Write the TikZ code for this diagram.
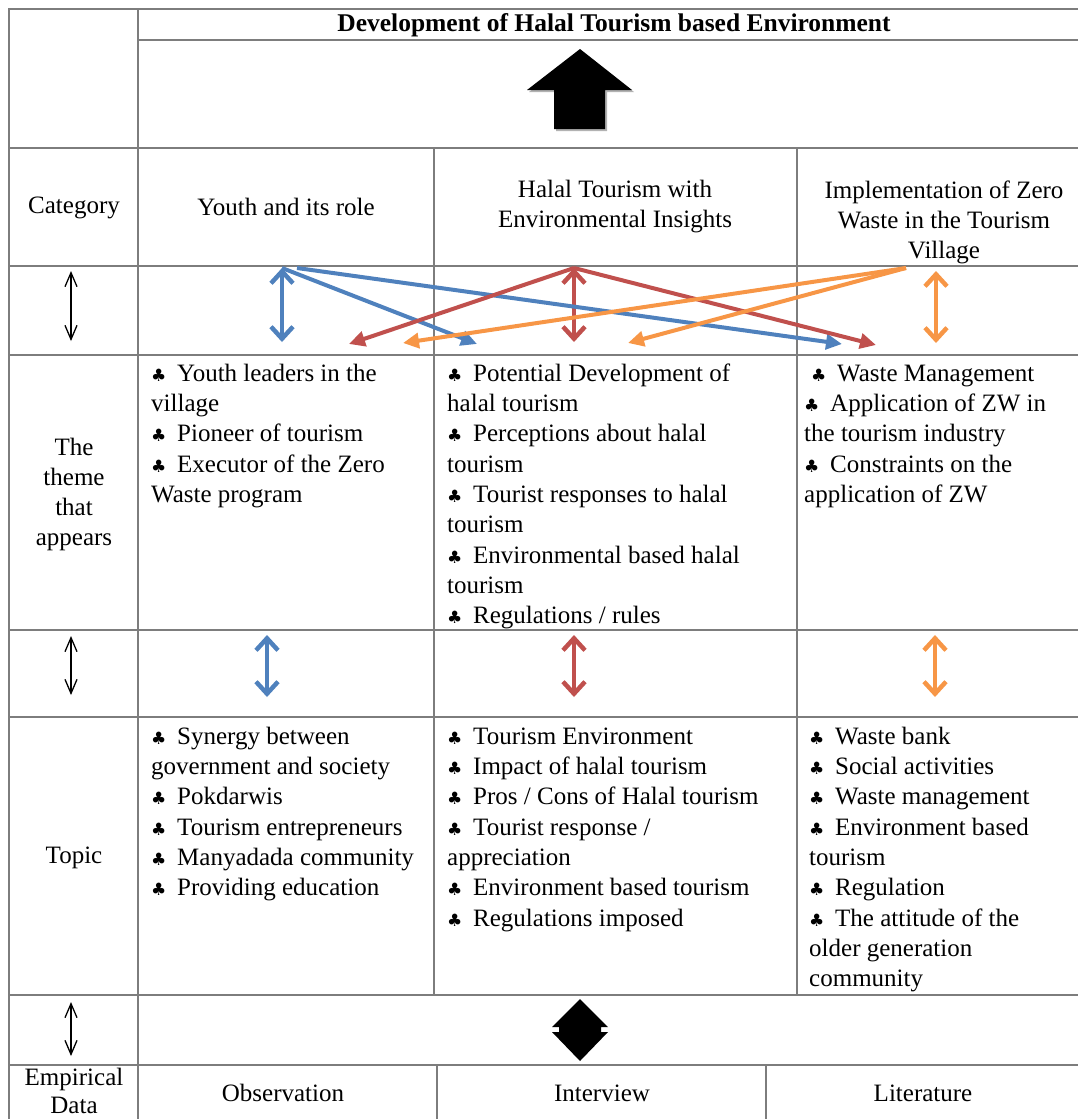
\documentclass[tikz,border=0pt]{standalone}
\usepackage{fontspec}
\setmainfont{Liberation Serif}
\newfontfamily\clubfont{DejaVu Sans}
\usetikzlibrary{arrows.meta}
\definecolor{gridgray}{RGB}{125,125,125}
\definecolor{tblue}{RGB}{79,129,189}
\definecolor{tred}{RGB}{192,80,77}
\definecolor{torange}{RGB}{247,150,70}
\newcommand{\cl}{\makebox[26pt][l]{\clubfont\fontsize{17}{17}\selectfont ♣}}
\begin{document}
\begin{tikzpicture}[x=1pt,y=-1pt,
  grid/.style={draw=gridgray, line width=1.8pt},
  txt/.style={font=\fontsize{25}{30.3}\selectfont, inner sep=0pt, align=left, anchor=north west},
  ctr/.style={font=\fontsize{25}{30}\selectfont, inner sep=0pt, align=center},
  thinarr/.style={line width=1.3pt, {Straight Barb[length=14pt,width=12pt]}-{Straight Barb[length=14pt,width=12pt]}},
  vdbl/.style={line width=4.5pt, {Straight Barb[length=12pt,width=22pt]}-{Straight Barb[length=12pt,width=22pt]}},
  diag/.style={line width=4pt, -{Triangle[length=16pt,width=15pt]}},
]
\useasboundingbox (0,0) rectangle (1078,1119);

% ---------- grid ----------
\draw[grid] (8,9) -- (1078,9);
\draw[grid] (138,40) -- (1078,40);
\foreach \yy in {148,266,355,630,717,995,1065}
  \draw[grid] (8,\yy) -- (1078,\yy);
\draw[grid] (9,8) -- (9,1119);
\draw[grid] (138,8) -- (138,1119);
\draw[grid] (434,148) -- (434,995);
\draw[grid] (797,148) -- (797,995);
\draw[grid] (437,1065) -- (437,1119);
\draw[grid] (766,1065) -- (766,1119);

% ---------- title and big arrow ----------
\node[ctr, font=\fontsize{25.5}{30}\selectfont\bfseries] (title) at (614,25) {Development of Halal Tourism based Environment};
\fill[gray!60] (529,92) -- (582,51) -- (634,92) -- (607,92) -- (607,131) -- (556,131) -- (556,92) -- cycle;
\fill[black] (527,90) -- (580,49) -- (632,90) -- (605,90) -- (605,129) -- (554,129) -- (554,90) -- cycle;

% ---------- category row ----------
\node[ctr] (cat) at (74,208) {Category};
\node[ctr] (c1) at (286,207) {Youth and its role};
\node[ctr] (c2) at (615,207) {Halal Tourism with\\Environmental Insights};
\node[ctr] (c3) at (944,222) {Implementation of Zero\\Waste in the Tourism\\Village};

% ---------- left column labels ----------
\coordinate (la1) at (71,271); \coordinate (lb1) at (71,341);
\draw[thinarr] (la1) -- (lb1);
\node[ctr] (theme) at (74,494) {The\\theme\\that\\appears};
\coordinate (la2) at (71,636); \coordinate (lb2) at (71,695);
\draw[thinarr] (la2) -- (lb2);
\node[ctr] (topic) at (74,858) {Topic};
\coordinate (la3) at (71,1002); \coordinate (lb3) at (71,1056);
\draw[thinarr] (la3) -- (lb3);
\node[ctr, font=\fontsize{25}{28}\selectfont] (emp) at (74,1091) {Empirical\\Data};

% ---------- arrows between category and theme ----------
\coordinate (bs) at (282,268);  \coordinate (bs2) at (297,268);
\coordinate (rs) at (574,268);  \coordinate (os) at (906,268);
\coordinate (bv) at (282,342);  \coordinate (rv) at (574,342);
\coordinate (ov1) at (936,271); \coordinate (ov2) at (936,343);
\coordinate (bt1) at (477,344); \coordinate (bt2) at (842,344);
\coordinate (rt1) at (349,344); \coordinate (rt2) at (876,345);
\coordinate (ot1) at (628,343); \coordinate (ot2) at (403,343);
\draw[tblue, vdbl] (bs) -- (bv);
\draw[tred, vdbl] (rs) -- (rv);
\draw[torange, vdbl] (ov1) -- (ov2);
\draw[tblue, diag] (bs) -- (bt1);
\draw[tblue, diag] (bs2) -- (bt2);
\draw[tred, diag] (rs) -- (rt1);
\draw[tred, diag] (rs) -- (rt2);
\draw[torange, diag] (os) -- (ot1);
\draw[torange, diag] (os) -- (ot2);

% ---------- theme texts ----------
\node[txt] (t1) at (151,359.8) {\strut\cl Youth leaders in the\\village\\\cl Pioneer of tourism\\\cl Executor of the Zero\\Waste program};
\node[txt] (t2) at (447,359.8) {\strut\cl Potential Development of\\halal tourism\\\cl Perceptions about halal\\tourism\\\cl Tourist responses to halal\\tourism\\\cl Environmental based halal\\tourism\\\cl Regulations / rules};
\node[txt] (t3) at (804,359.8) {\strut\hspace{7pt}\cl Waste Management\\\cl Application of ZW in\\the tourism industry\\\cl Constraints on the\\application of ZW};

% ---------- arrows between theme and topic ----------
\coordinate (b2a) at (267,635); \coordinate (b2b) at (267,697);
\coordinate (r2a) at (574,635); \coordinate (r2b) at (574,697);
\coordinate (o2a) at (935,635); \coordinate (o2b) at (935,697);
\draw[tblue, vdbl] (b2a) -- (b2b);
\draw[tred, vdbl] (r2a) -- (r2b);
\draw[torange, vdbl] (o2a) -- (o2b);

% ---------- topic texts ----------
\node[txt] (p1) at (151,722.8) {\strut\cl Synergy between\\government and society\\\cl Pokdarwis\\\cl Tourism entrepreneurs\\\cl Manyadada community\\\cl Providing education};
\node[txt] (p2) at (447,722.8) {\strut\cl Tourism Environment\\\cl Impact of halal tourism\\\cl Pros / Cons of Halal tourism\\\cl Tourist response /\\appreciation\\\cl Environment based tourism\\\cl Regulations imposed};
\node[txt] (p3) at (809,722.8) {\strut\cl Waste bank\\\cl Social activities\\\cl Waste management\\\cl Environment based\\tourism\\\cl Regulation\\\cl The attitude of the\\older generation\\community};

% ---------- double block arrow ----------
\fill[black] (580,999) -- (608,1027) -- (601,1027) -- (601,1032) -- (608,1032) -- (580,1061)
  -- (552,1032) -- (559,1032) -- (559,1027) -- (552,1027) -- cycle;

% ---------- empirical data row ----------
\node[ctr] (obs) at (283,1093) {Observation};
\node[ctr] (int) at (602,1093) {Interview};
\node[ctr] (lit) at (923,1093) {Literature};
\end{tikzpicture}
\end{document}
